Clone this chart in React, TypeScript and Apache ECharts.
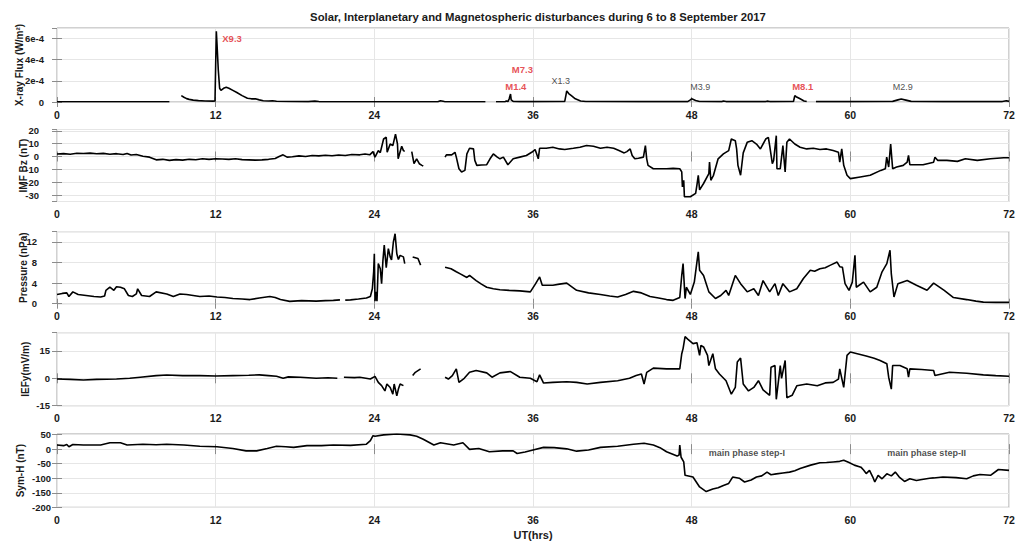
import React, { useEffect, useRef } from 'react';
import * as echarts from 'echarts';

// ---------- data (UT hours, value) ; null = data gap ----------
const hourTicks = [0, 12, 24, 36, 48, 60, 72];

const xray: [number, number | null][] = [
  [0, 0.02e-4], [2, 0.02e-4], [4, 0.02e-4], [6, 0.02e-4], [8.5, 0.02e-4], [8.55, null],
  [9.4, 0.6e-4], [9.6, 0.45e-4], [9.8, 0.32e-4], [10.0, 0.25e-4], [10.3, 0.18e-4], [10.7, 0.13e-4],
  [11.2, 0.1e-4], [11.8, 0.08e-4], [11.95, 0.1e-4], [12.0, 3.5e-4], [12.05, 6.7e-4], [12.1, 5.5e-4],
  [12.2, 3.0e-4], [12.3, 1.3e-4], [12.4, 1.1e-4], [12.6, 1.3e-4], [12.8, 1.4e-4], [13.0, 1.3e-4],
  [13.3, 1.1e-4], [13.6, 0.9e-4], [14.0, 0.6e-4], [14.4, 0.35e-4], [14.7, 0.3e-4], [15.0, 0.3e-4],
  [15.3, 0.2e-4], [15.6, 0.12e-4], [16.0, 0.1e-4], [16.3, 0.12e-4], [16.6, 0.07e-4], [17.5, 0.05e-4],
  [19.0, 0.04e-4], [19.5, 0.08e-4], [19.8, 0.04e-4], [22, 0.03e-4], [24, 0.03e-4], [28.8, 0.03e-4],
  [29.0, 0.12e-4], [29.3, 0.04e-4], [31, 0.03e-4], [32.4, 0.03e-4], [32.5, null], [33.2, 0.03e-4],
  [33.9, 0.04e-4], [34.0, 0.1e-4], [34.1, 0.04e-4], [34.2, 0.3e-4], [34.3, 0.75e-4], [34.35, 0.2e-4],
  [34.5, 0.05e-4], [35, 0.04e-4], [36, 0.04e-4], [38.4, 0.05e-4], [38.5, 0.7e-4], [38.55, 1.05e-4],
  [38.7, 0.8e-4], [38.9, 0.6e-4], [39.2, 0.3e-4], [39.6, 0.1e-4], [40, 0.05e-4], [44, 0.04e-4],
  [47.7, 0.04e-4], [47.9, 0.2e-4], [48.0, 0.3e-4], [48.3, 0.15e-4], [48.6, 0.05e-4], [50.3, 0.04e-4],
  [50.4, 0.1e-4], [50.6, 0.04e-4], [53.6, 0.04e-4], [53.7, 0.08e-4], [53.9, 0.04e-4], [55.7, 0.05e-4],
  [55.8, 0.6e-4], [55.9, 0.5e-4], [56.2, 0.3e-4], [56.5, 0.1e-4], [56.7, 0.05e-4], [56.75, null],
  [57.4, 0.04e-4], [60, 0.04e-4], [63.2, 0.06e-4], [63.6, 0.2e-4], [63.85, 0.28e-4], [64.2, 0.18e-4],
  [64.6, 0.06e-4], [67, 0.04e-4], [71.5, 0.04e-4], [71.8, 0.12e-4], [72, 0.06e-4],
];

const imfBz: [number, number | null][] = [
  [0, 2], [0.5, 2.2], [1, 1.8], [1.5, 2.5], [2, 2.3], [2.5, 2.6], [3, 2.1], [3.5, 2.4], [4, 1.8], [4.5, 2.2],
  [5, 1.5], [5.3, 2.4], [5.6, 1.2], [6, 1.5], [6.5, 0.2], [7, -0.5], [7.5, -2.6], [8, -2.2], [8.5, -3],
  [9, -2.4], [9.5, -2.8], [10, -2.2], [10.5, -2.5], [11, -1.8], [11.5, -2.2], [12, -1.8], [12.5, -2],
  [13, -2.2], [13.5, -1.8], [14, -2.4], [14.5, -2.6], [15, -2.8], [15.5, -2.6], [16, -2.2], [16.5, -1.5],
  [16.8, 0], [17.1, 1.3], [17.4, -0.5], [17.8, -0.2], [18.3, 0.5], [18.8, 0], [19.3, 0.8], [19.8, 0.5],
  [20.3, 1], [20.8, 0.6], [21.3, 1.2], [21.8, 0.8], [22.3, 1.5], [22.9, 1.3], [23.3, 2], [23.65, 1.3],
  [23.9, 3.8], [24.05, -0.5], [24.3, 4.6], [24.45, 3], [24.7, 13.6], [24.9, 15], [24.97, 3.3], [25.2, 9.7],
  [25.4, 8.5], [25.6, 17.4], [25.75, 9.7], [25.8, -1.8], [26.07, 8], [26.2, 4.6], [26.3, 4], [26.35, null],
  [26.83, 3.8], [27.0, -5.6], [27.2, -1.8], [27.4, -5.6], [27.6, -6.9], [27.7, -7.4], [27.75, null],
  [29.35, -0.5], [29.45, 1.3], [29.85, 1.3], [30.1, 3.3], [30.2, -0.5], [30.4, -9.5], [30.6, -12],
  [30.85, -10.8], [31.0, 2], [31.2, 6.4], [31.5, 5.9], [31.6, -3], [31.75, -6.9], [32.1, -6.6], [32.5, -6.4],
  [32.75, -1.8], [33.0, 2], [33.3, -0.5], [33.5, -1.8], [33.76, -0.5], [34.1, -6.4], [34.5, -1.8],
  [35.0, -0.5], [35.5, 0.8], [35.9, 3.3], [36.16, 5.4], [36.4, -1.8], [36.5, 6.4], [37.0, 6.4], [37.5, 7.2],
  [38.0, 5.9], [38.4, 5.4], [39.05, 6.4], [39.55, 7.2], [40.05, 8.5], [40.57, 8], [41.1, 6.4], [41.6, 7.2],
  [42.1, 6.4], [42.5, 4.6], [42.9, 2.8], [43.1, 3.8], [43.35, 5.9], [43.5, 0.8], [43.7, -1.8], [43.97, -1.3],
  [44.35, -0.5], [44.5, 8.5], [44.6, -1.8], [44.7, -6.9], [45.1, -9.5], [46.1, -9.5], [46.6, -9.2],
  [47.1, -9.5], [47.25, -12], [47.3, -23.6], [47.4, -18.5], [47.45, -31.3], [47.9, -31.3], [48.3, -28.7],
  [48.4, -22], [48.5, -14.6], [48.6, -26], [48.9, -21], [49.3, -13.3], [49.35, -4.4], [49.45, -18.5],
  [49.65, -14.6], [50.0, -1.8], [50.4, 2], [50.8, 4.6], [51.0, 13.6], [51.3, 12.3], [51.4, 5.9],
  [51.5, -6.9], [51.7, -14.6], [51.9, 2.8], [52.2, 11], [52.55, 12.3], [52.9, 9.7], [53.2, 5.9], [53.6, 13.6],
  [53.8, 14.9], [53.9, 8.5], [54.1, -5.6], [54.2, -3], [54.4, 16.2], [54.45, -9.5], [54.7, -9.5], [54.9, 8.5],
  [55.07, -12], [55.2, 11], [55.4, 13.6], [55.8, 9.7], [56.2, 7.2], [56.7, 5.9], [57.2, 6.4], [57.7, 5.4],
  [58.2, 5.9], [58.7, 4.6], [59.1, 3.3], [59.2, -4.4], [59.35, 5.9], [59.5, -6.9], [59.75, -14.6],
  [60.0, -17.2], [60.75, -15.9], [61.5, -14.6], [62.3, -10.8], [62.65, -9.5], [62.75, -0.5], [62.9, -8.2],
  [63.05, 9.7], [63.2, -9.5], [63.5, -8.2], [64.0, -6.9], [64.3, -4.4], [64.4, 0.8], [64.5, -6.4],
  [65.5, -6.4], [66.3, -4.4], [66.4, -0.5], [66.6, -3], [67.3, -3], [68.1, -3.8], [68.7, -1.8], [69.6, -3],
  [70.6, -1.8], [71.6, -1.0], [72, -1.0],
];

const pressure: [number, number | null][] = [
  [0, 1.8], [0.4, 2.0], [0.74, 2.1], [0.9, 1.4], [1.2, 2.3], [1.6, 1.8], [2.2, 1.6], [2.8, 1.4], [3.3, 1.3],
  [3.6, 1.5], [3.7, 2.6], [4.0, 3.2], [4.3, 2.6], [4.5, 3.3], [4.8, 3.2], [5.1, 2.9], [5.4, 1.6], [5.7, 1.4],
  [6.0, 1.9], [6.1, 2.9], [6.4, 1.6], [7.0, 1.4], [7.5, 2.3], [8.3, 1.9], [8.8, 1.4], [9.3, 1.9], [9.8, 1.8],
  [10.3, 1.6], [10.8, 1.4], [11.5, 1.5], [12.1, 1.3], [12.7, 1.2], [13.3, 1.0], [14, 0.9], [14.6, 0.8],
  [15.3, 1.1], [16.1, 1.4], [16.5, 1.2], [16.9, 0.8], [17.6, 0.45], [18.5, 0.6], [19.6, 0.5], [20.3, 0.6],
  [20.9, 0.65], [21.4, 0.75], [21.5, null], [21.8, 0.7], [22.2, 0.75], [22.8, 0.9], [23.4, 1.1], [23.7, 1.4],
  [23.85, 2.9], [23.95, 6.2], [24.0, 9.7], [24.05, 0.5], [24.12, 2.3], [24.2, 0.5], [24.3, 7.8], [24.45, 6.8],
  [24.55, 3.9], [24.65, 8.4], [24.75, 11.4], [24.9, 7], [25.06, 10.7], [25.2, 9.1], [25.3, 8.5], [25.44, 12],
  [25.57, 13.6], [25.7, 9.7], [25.82, 8.6], [25.95, 9.4], [26.2, 9.1], [26.3, 7.8], [26.35, null], [26.9, 9.1],
  [27.3, 8.8], [27.5, 7.5], [27.6, null], [29.35, 7.1], [29.8, 6.8], [30.2, 6.2], [30.5, 5.8], [31, 5.1],
  [31.2, 5.5], [31.7, 4.5], [32.1, 3.8], [32.5, 3.2], [33, 2.9], [33.5, 2.7], [34.2, 2.6], [35, 2.5],
  [35.4, 2.4], [35.8, 2.3], [36.2, 3.9], [36.5, 5.2], [36.7, 3.6], [37.5, 3.6], [38, 3.8], [38.55, 4.0],
  [39.3, 2.6], [40.2, 2.1], [41.1, 1.8], [41.8, 1.5], [42.4, 1.3], [43, 1.8], [43.6, 2.4], [44.2, 2.1],
  [44.85, 1.4], [45.5, 1.1], [46.1, 0.8], [46.6, 0.65], [47.1, 1.2], [47.25, 5.5], [47.35, 7.8], [47.5, 1.0],
  [47.6, 3.2], [47.9, 1.8], [48.2, 4.2], [48.5, 10.1], [48.6, 6.5], [48.9, 5.5], [49.1, 3.9], [49.3, 2.3],
  [49.8, 1.0], [50.2, 1.6], [50.6, 2.6], [50.8, 1.6], [51.3, 5.5], [51.7, 3.9], [52.2, 2.3], [52.7, 2.9],
  [53.05, 1.6], [53.4, 4.5], [53.9, 2.3], [54.3, 3.9], [54.55, 1.6], [54.9, 3.9], [55.4, 2.3], [55.95, 2.9],
  [56.45, 4.9], [56.97, 6.5], [57.3, 6.3], [57.7, 6.8], [58.1, 7], [58.5, 7.5], [59.0, 8.1], [59.2, 7.2],
  [59.4, 7.1], [59.6, 3.9], [59.9, 2.6], [60.15, 4.2], [60.35, 9.4], [60.45, 3.2], [61.0, 4.2], [61.5, 2.3],
  [62.0, 3.2], [62.4, 6.2], [62.76, 7.8], [63.0, 10.4], [63.1, 5.8], [63.3, 1.3], [63.6, 3.9], [64.3, 4.5],
  [65.0, 3.6], [65.8, 2.6], [66.3, 4.0], [67.1, 2.6], [67.8, 1.2], [68.8, 0.8], [69.5, 0.5], [70.06, 0.3],
  [71, 0.25], [72, 0.25],
];

const iefy: [number, number | null][] = [
  [0, -0.4], [1, -0.6], [2, -0.9], [3, -0.6], [4.5, -0.4], [5.5, 0], [6.3, 0.6], [7.5, 1.5], [8.3, 1.8],
  [9.5, 1.5], [10.8, 1.5], [12, 1.3], [13.3, 1.5], [14.5, 1.7], [15.3, 1.9], [16, 1.5], [16.6, 1.1], [17.1, 0],
  [17.5, 0.8], [18.4, 0.6], [19.6, 0], [20.5, 0.3], [21.2, 0], [21.3, null], [21.7, 0.6], [22.5, 0.4],
  [22.9, 0.6], [23.7, -0.4], [24.05, 1.1], [24.3, -2.2], [24.55, -4], [24.8, -6.9], [24.95, -3.1], [25.2, -5],
  [25.4, -8.7], [25.5, -3.1], [25.7, -9.6], [25.82, -5.9], [25.95, -3.1], [26.2, -4], [26.3, null], [26.9, 1.5],
  [27.1, 3.3], [27.5, 5.2], [27.6, null], [29.35, 0.6], [29.6, -0.4], [29.9, 1.5], [30.2, 5.2], [30.4, -2.2],
  [30.8, 0], [31.2, 3.3], [31.7, 4.3], [32.5, 3.0], [32.9, 0.6], [33.5, 3.0], [34.3, 3.7], [35.0, 0.6],
  [35.8, 0], [36.3, -1.9], [36.5, 1.9], [36.8, -2.6], [37.5, -2.2], [38.55, -1.9], [39.3, -2.2], [40.1, -3.1],
  [41.1, -2.2], [42.4, -1.3], [43.3, 0], [43.8, 1.5], [44.2, 2.4], [44.4, -3.1], [44.6, 3.3], [45.1, 5.6],
  [46.1, 5.2], [47.1, 5.2], [47.25, 13.5], [47.35, 16.3], [47.5, 22.8], [47.7, 21.5], [48.1, 19], [48.4, 19.5],
  [48.6, 12.6], [48.7, 18], [48.9, 17.2], [49.2, 12.6], [49.3, 7], [49.6, 13.5], [49.8, 5.2], [50.1, 2.4],
  [50.6, -1.3], [51.0, -8.7], [51.3, -5], [51.45, 8.9], [51.7, 11.1], [51.9, -3.1], [52.3, -6.9], [52.7, -5],
  [53.05, -1.3], [53.4, -6.3], [53.9, -9.3], [54.0, 6.1], [54.3, 7], [54.4, -11.5], [54.7, 7], [54.8, 0],
  [55.07, 9.8], [55.2, -10.6], [55.6, -9.3], [55.95, -4.1], [56.7, -3.1], [57.5, -4.1], [58.1, -2.5],
  [58.7, -2.2], [59.1, -0.4], [59.2, 5.2], [59.5, -5], [59.75, 12.6], [60.0, 14.4], [60.6, 13.3], [61.2, 12.2],
  [61.8, 11], [62.25, 9.8], [62.76, 8], [62.9, 0.6], [63.1, -5.9], [63.2, 7], [63.75, 7], [64.3, 5.2],
  [64.4, 0.6], [64.5, 5.2], [65.4, 4.8], [66.3, 4.3], [66.4, 1.5], [67.5, 3.3], [68.8, 2.8], [70.06, 1.9],
  [71, 1.5], [72, 1.1],
];

const symH: [number, number | null][] = [
  [0, 14], [0.5, 12], [0.74, 16], [0.9, 8], [1.2, 16], [2, 14], [3.3, 14], [4.0, 22], [4.8, 22], [5.3, 14],
  [6.5, 17], [7.5, 15], [8.3, 17], [9.6, 14], [10.8, 10], [12.1, 8], [13.3, 2], [14.3, -6], [15.1, -6],
  [15.9, 2], [16.6, 10], [17.3, 8], [17.9, 6], [18.9, 12], [20, 12], [20.9, 14], [22.2, 13], [23.4, 17],
  [23.7, 29], [23.9, 46], [24.05, 44], [24.7, 49], [25.7, 52], [26.7, 49], [27.2, 44], [27.7, 34], [28.5, 14],
  [29.0, 22], [30.0, 14], [30.7, 22], [31.2, -1], [31.9, 2], [32.7, -9], [33.7, -6], [34.5, -6], [34.8, -15],
  [35.4, -10], [36.0, -3], [36.8, 6], [37.6, 5], [38.55, 1], [39.3, -7], [40.2, -3], [41.1, 6], [42.4, 10],
  [43.6, 17], [44.4, 20], [45.1, 14], [45.6, 5], [46.1, -9], [46.9, -24], [47.05, -20], [47.1, 14], [47.2, -28],
  [47.4, -44], [47.5, -90], [48.1, -96], [48.6, -130], [49.1, -146], [49.6, -137], [50.0, -133], [50.4, -125],
  [50.8, -118], [51.1, -96], [51.6, -100], [52.0, -113], [52.5, -106], [52.9, -96], [53.3, -92], [53.7, -79],
  [54.0, -88], [54.4, -85], [54.9, -82], [55.4, -79], [55.8, -74], [56.2, -67], [57.0, -55], [57.7, -47],
  [58.2, -46], [58.7, -44], [59.2, -42], [59.5, -38], [59.9, -46], [60.3, -55], [60.8, -62], [61.0, -72],
  [61.2, -84], [61.45, -73], [61.7, -96], [61.85, -113], [62.1, -90], [62.4, -102], [62.76, -85],
  [63.1, -92], [63.4, -79], [63.7, -96], [64.1, -111], [64.5, -102], [65.0, -108], [65.3, -105], [66.0, -100],
  [66.3, -99], [67, -96], [68.0, -98], [68.8, -102], [69.3, -92], [69.8, -87], [70.6, -90], [71.2, -70],
  [72, -73],
];

// flare annotations (hour, flux) and storm-phase annotations (hour, nT)
const flareNames = ['X9.3', 'M7.3', 'M1.4', 'X1.3', 'M3.9', 'M8.1', 'M2.9'];
const flareHours = [12.5, 34.4, 33.9, 37.4, 47.9, 55.6, 63.2];
const flareFlux = [6.0e-4, 3.05e-4, 1.43e-4, 2.0e-4, 1.43e-4, 1.5e-4, 1.43e-4];
const phaseNames = ['main phase step-I', 'main phase step-II'];
const phaseHours = [49.3, 62.8];
const phaseSymH = [-13, -15];

const panelNames = ['X-ray Flux (W/m²)', 'IMF Bz (nT)', 'Pressure (nPa)', 'IEFy(mV/m)', 'Sym-H (nT)'];
const panelMin = [0, -35, 0, -15, -200];
const panelMax = [7e-4, 21, 14, 25, 52];
const panelInterval = [2e-4, undefined, 4, 15, 50];

const FONT = '"Liberation Sans", Arial, Helvetica, sans-serif';

export default function App() {
  const ref = useRef<HTMLDivElement>(null);

  useEffect(() => {
    if (!ref.current) return;
    const chart = echarts.init(ref.current, undefined, { renderer: 'svg' });

    const grids = [
      { top: 28, height: 74 },
      { top: 129.5, height: 72 },
      { top: 231.7, height: 72 },
      { top: 332.7, height: 73 },
      { top: 434, height: 73.3 },
    ].map((g) => ({
      left: 57,
      width: 952,
      top: g.top,
      height: g.height,
      containLabel: false,
      outerBoundsMode: 'none',
      show: true,
      borderColor: '#a3a3a3',
      borderWidth: 1,
      backgroundColor: 'transparent',
    }));

    const labelMargins = [13, 18, 20, 7, 6];
    const nameGaps = [33, 28.5, 28.5, 26.5, 32];
    const series = [xray, imfBz, pressure, iefy, symH];

    const tickStyle = { color: '#8c8c8c', width: 1 };
    const splitStyle = { color: '#e6e6e6', width: 1 };
    const labelStyle = { fontFamily: FONT, fontWeight: 'bold' as const, fontSize: 10.5, color: '#1a1a1a' };

    const xAxis: any[] = [];
    const yAxis: any[] = [];
    for (let i = 0; i < 5; i++) {
      xAxis.push({
        type: 'value', gridIndex: i, position: 'bottom', min: 0, max: 72, interval: 12,
        axisLine: { show: false },
        axisTick: { show: true, inside: true, length: 5, lineStyle: tickStyle },
        splitLine: { show: true, lineStyle: splitStyle },
        axisLabel: { ...labelStyle, margin: 7, formatter: (v: number) => (hourTicks.includes(v) ? String(v) : '') },
        ...(i === 4
          ? {
              name: 'UT(hrs)', nameLocation: 'middle', nameGap: 22, nameMoveOverlap: false,
              nameTextStyle: { fontFamily: FONT, fontWeight: 'bold', fontSize: 11, color: '#1a1a1a' },
            }
          : {}),
      });
      xAxis.push({
        type: 'value', gridIndex: i, position: 'top', min: 0, max: 72, interval: 12,
        axisLine: { show: false },
        axisTick: { show: true, inside: true, length: 5, lineStyle: tickStyle },
        splitLine: { show: false },
        axisLabel: { show: false },
      });
      const common: any = {
        type: 'value', gridIndex: i, min: panelMin[i], max: panelMax[i],
        axisLine: { show: false },
        axisTick: { show: true, inside: true, length: 5, lineStyle: tickStyle },
      };
      if (panelInterval[i] !== undefined) common.interval = panelInterval[i];
      else common.splitNumber = 5;
      yAxis.push({
        ...common, position: 'left',
        splitLine: { show: true, lineStyle: splitStyle },
        axisLabel: {
          ...labelStyle, fontSize: 9.5, margin: labelMargins[i], showMaxLabel: false,
          showMinLabel: i === 1 ? false : true,
          formatter: i === 0
            ? (v: number) => (v === 0 ? '0' : Math.round(v * 1e4) + 'e-4')
            : (v: number) => String(Math.round(v * 100) / 100),
        },
        name: panelNames[i], nameLocation: 'middle', nameGap: nameGaps[i], nameRotate: 90,
        nameMoveOverlap: false,
        nameTextStyle: { fontFamily: FONT, fontWeight: 'bold', fontSize: 10, color: '#1a1a1a' },
      });
      yAxis.push({
        ...common, position: 'right',
        splitLine: { show: false },
        axisLabel: { show: false },
      });
    }

    const lineSeries = series.map((d, i) => ({
      type: 'line', xAxisIndex: 2 * i, yAxisIndex: 2 * i, data: d,
      showSymbol: false, connectNulls: false, clip: true,
      lineStyle: { color: '#000', width: 1.6 },
      itemStyle: { color: '#000' },
      z: 3,
    }));

    const redFlares = ['X9.3', 'M7.3', 'M1.4', 'M8.1'];
    const flareSeries = {
      type: 'scatter', xAxisIndex: 0, yAxisIndex: 0, symbolSize: 0, silent: true, z: 5,
      data: flareNames.map((n, k) => {
        const red = redFlares.includes(n);
        return {
          value: [flareHours[k], flareFlux[k]],
          label: {
            show: true, position: 'right', distance: 0, formatter: n,
            fontFamily: FONT, fontSize: red ? 9.5 : 9, fontWeight: red ? 'bold' : 'normal',
            color: red ? '#e0242b' : '#222',
          },
        };
      }),
    };
    const phaseSeries = {
      type: 'scatter', xAxisIndex: 8, yAxisIndex: 8, symbolSize: 0, silent: true, z: 5,
      data: phaseNames.map((n, k) => ({
        value: [phaseHours[k], phaseSymH[k]],
        label: {
          show: true, position: 'right', distance: 0, formatter: n,
          fontFamily: FONT, fontSize: 9, fontWeight: 'bold', color: '#222',
        },
      })),
    };

    chart.setOption({
      animation: false,
      backgroundColor: '#ffffff',
      textStyle: { fontFamily: FONT },
      title: {
        text: 'Solar, Interplanetary and Magnetospheric disturbances during 6 to 8 September 2017',
        left: 533, top: 6, textAlign: 'center',
        textStyle: { fontFamily: FONT, fontWeight: 'bold', fontSize: 11.3, color: '#1a1a1a' },
      },
      grid: grids,
      xAxis,
      yAxis,
      series: [...lineSeries, flareSeries, phaseSeries],
    });

    return () => chart.dispose();
  }, []);

  return (
    <div
      ref={ref}
      style={{ position: 'fixed', left: 0, top: 0, width: 1022, height: 541, background: '#fff' }}
    />
  );
}
